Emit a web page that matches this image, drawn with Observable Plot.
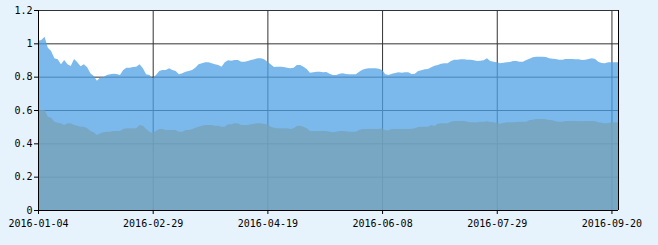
<!DOCTYPE html>
<html><head><meta charset="utf-8">
<script src="https://cdn.jsdelivr.net/npm/d3@7"></script>
<script src="https://cdn.jsdelivr.net/npm/@observablehq/plot@0.6"></script>
<style>html,body{margin:0;padding:0;background:#e7f3fc;overflow:hidden;} svg{display:block;}</style>
</head><body><div id="chart"></div>
<script>
const upper = [1.016,1.02,1.04,0.974,0.954,0.91,0.904,0.874,0.90,0.874,
0.864,0.906,0.886,0.862,0.874,0.856,0.82,0.804,0.776,0.796,
0.796,0.81,0.814,0.818,0.816,0.81,0.84,0.854,0.854,0.858,
0.86,0.874,0.85,0.814,0.81,0.79,0.81,0.834,0.84,0.84,
0.85,0.84,0.834,0.814,0.82,0.83,0.834,0.84,0.854,0.874,
0.88,0.886,0.886,0.88,0.874,0.87,0.86,0.886,0.898,0.896,
0.90,0.90,0.89,0.89,0.894,0.90,0.904,0.91,0.91,0.904,
0.89,0.874,0.858,0.86,0.86,0.858,0.854,0.85,0.854,0.87,
0.87,0.86,0.846,0.824,0.826,0.83,0.83,0.826,0.828,0.818,
0.81,0.81,0.818,0.82,0.816,0.814,0.814,0.814,0.83,0.842,
0.848,0.85,0.85,0.85,0.848,0.84,0.814,0.81,0.818,0.822,
0.826,0.824,0.826,0.826,0.816,0.818,0.834,0.838,0.844,0.846,
0.856,0.866,0.87,0.878,0.88,0.88,0.894,0.902,0.902,0.904,
0.904,0.902,0.902,0.898,0.894,0.896,0.898,0.91,0.894,0.89,
0.886,0.88,0.884,0.886,0.888,0.894,0.894,0.89,0.89,0.90,
0.908,0.916,0.92,0.92,0.92,0.918,0.91,0.908,0.906,0.902,
0.902,0.906,0.906,0.906,0.904,0.904,0.90,0.902,0.906,0.91,
0.906,0.89,0.882,0.88,0.886,0.886,0.886,0.886];
const lower = [0.60,0.60,0.60,0.56,0.554,0.53,0.524,0.52,0.51,0.52,
0.52,0.51,0.506,0.50,0.50,0.49,0.474,0.466,0.45,0.46,
0.466,0.47,0.47,0.474,0.474,0.474,0.486,0.49,0.49,0.49,
0.49,0.51,0.506,0.486,0.47,0.46,0.474,0.486,0.486,0.48,
0.48,0.48,0.48,0.47,0.47,0.48,0.48,0.484,0.494,0.50,
0.506,0.51,0.51,0.51,0.506,0.506,0.50,0.50,0.514,0.514,
0.52,0.52,0.51,0.51,0.51,0.514,0.518,0.52,0.52,0.516,
0.514,0.50,0.494,0.49,0.49,0.49,0.49,0.486,0.49,0.504,
0.506,0.50,0.49,0.474,0.474,0.474,0.474,0.474,0.474,0.47,
0.466,0.47,0.474,0.474,0.472,0.47,0.47,0.47,0.48,0.486,
0.486,0.486,0.486,0.486,0.486,0.49,0.478,0.478,0.486,0.486,
0.486,0.486,0.486,0.486,0.488,0.49,0.498,0.50,0.50,0.50,
0.51,0.504,0.518,0.52,0.52,0.52,0.53,0.534,0.534,0.534,
0.534,0.53,0.526,0.526,0.526,0.53,0.53,0.532,0.528,0.526,
0.522,0.518,0.522,0.526,0.526,0.526,0.528,0.53,0.53,0.53,
0.54,0.542,0.546,0.546,0.546,0.544,0.54,0.538,0.532,0.53,
0.53,0.534,0.534,0.534,0.534,0.534,0.532,0.534,0.534,0.534,
0.532,0.526,0.524,0.52,0.522,0.526,0.526,0.526];
const xTickIndex = [0,35,70,105,140,175];
const xTickLabels = ["2016-01-04","2016-02-29","2016-04-19","2016-06-08","2016-07-29","2016-09-20"];
const yTickValues = [0,0.2,0.4,0.6,0.8,1,1.2];
const yTickLabels = ["0","0.2","0.4","0.6","0.8","1","1.2"];

const data = upper.map((u,i)=>({i, u, l: lower[i]}));
const lastIndex = upper.length - 1;
const xFmt = d => xTickLabels[xTickIndex.indexOf(d)];
const yFmt = d => yTickLabels[yTickValues.indexOf(d)];

const chart = Plot.plot({
  width:658, height:245,
  marginLeft:38, marginRight:40, marginTop:10, marginBottom:35,
  style:{background:"transparent", fontFamily:"'DejaVu Sans Mono', monospace", fontSize:"10px", color:"#000"},
  x:{type:"linear", domain:[0,lastIndex]},
  y:{domain:[0,1.2]},
  marks:[
    Plot.frame({fill:"white", stroke:"none"}),
    Plot.ruleY(yTickValues.slice(1), {stroke:"#333"}),
    Plot.ruleX(xTickIndex.slice(1), {stroke:"#333"}),
    Plot.areaY(data, {x:"i", y:"u", fill:"#4fa2e7", fillOpacity:0.75}),
    Plot.areaY(data, {x:"i", y:"l", fill:"#77a2b6", fillOpacity:0.75}),
    Plot.ruleX([0], {stroke:"#000"}),
    Plot.ruleX([lastIndex], {stroke:"#000"}),
    Plot.ruleY([0], {stroke:"#000"}),
    Plot.axisX({ticks:xTickIndex, tickFormat:xFmt, tickSize:4, tickPadding:5, stroke:"#000", fill:"#000", label:null}),
    Plot.axisY({ticks:yTickValues, tickFormat:yFmt, tickSize:4, tickPadding:2, stroke:"#000", fill:"#000", label:null})
  ]
});
document.getElementById("chart").appendChild(chart);
</script>
</body></html>
